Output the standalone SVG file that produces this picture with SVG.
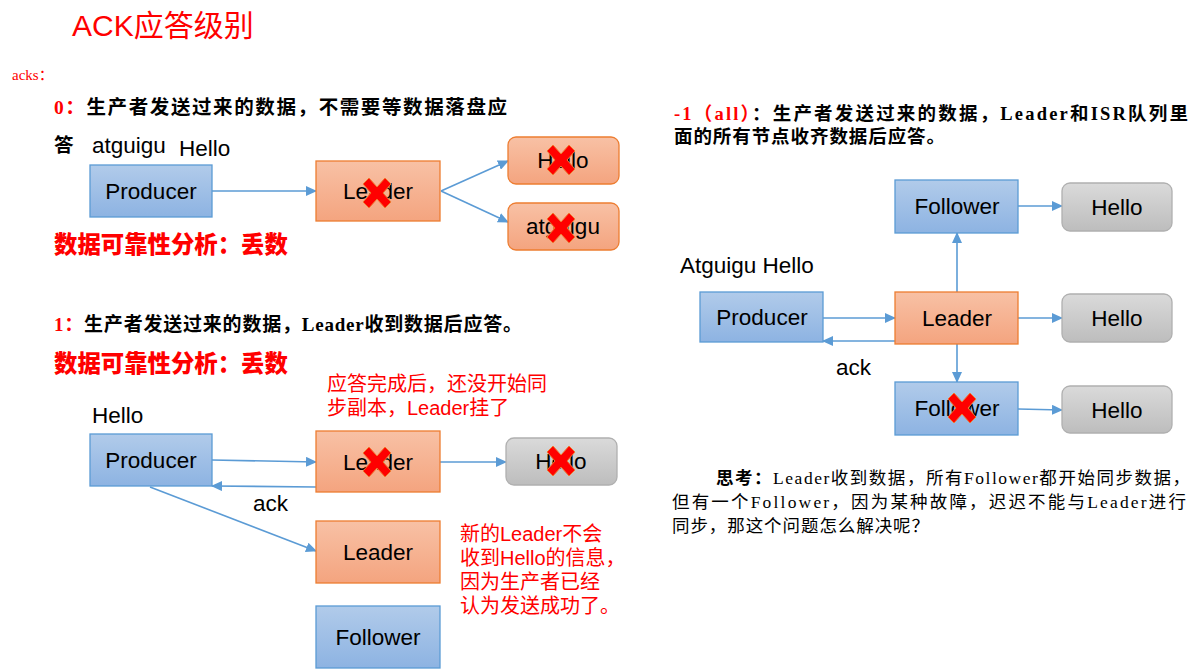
<svg xmlns="http://www.w3.org/2000/svg" width="1200" height="669" viewBox="0 0 1200 669">
<defs>
<linearGradient id="gBlue" x1="0" y1="0" x2="0" y2="1"><stop offset="0" stop-color="#B1CBEA"/><stop offset="1" stop-color="#8DB3E2"/></linearGradient>
<linearGradient id="gOrange" x1="0" y1="0" x2="0" y2="1"><stop offset="0" stop-color="#F8C1A5"/><stop offset="1" stop-color="#F4A47F"/></linearGradient>
<linearGradient id="gGray" x1="0" y1="0" x2="0" y2="1"><stop offset="0" stop-color="#DADADA"/><stop offset="1" stop-color="#BDBDBD"/></linearGradient>
<marker id="arr" markerWidth="11" markerHeight="10" refX="10" refY="5" orient="auto" markerUnits="userSpaceOnUse"><path d="M0,0 L11,5 L0,10 Z" fill="#5B9BD5"/></marker>
<polygon id="xmark" points="-14,-9 -8,-15 0,-6 8,-15 14,-9 6,0 14,9 8,15 0,6 -8,15 -14,9 -6,0" fill="#FF0000" stroke="#F07830" stroke-width="1" stroke-linejoin="round"/>
</defs>
<style>
.blue{fill:url(#gBlue);stroke:#5B9BD5;stroke-width:1.3}
.orange{fill:url(#gOrange);stroke:#ED7D31;stroke-width:1.3}
.gray{fill:url(#gGray);stroke:#B0B0B0;stroke-width:1.3}
.lbl{font-family:"Liberation Sans",Arial,sans-serif;font-size:22.5px;fill:#000}
.cn{font-family:"Liberation Serif","Noto Sans CJK SC",serif;fill:#000}
.red{fill:#FF0000}
.ann{font-family:"Liberation Sans","Noto Sans CJK SC",sans-serif;font-size:20px;fill:#FF0000}
.hd{font-family:"Noto Sans CJK SC",sans-serif;font-size:23.4px;font-weight:900;fill:#FF0000}
.conn line{stroke:#5B9BD5;stroke-width:1.6;marker-end:url(#arr)}
</style>
<rect width="1200" height="669" fill="#FFFFFF"/>

<g id="title">
<text x="72" y="36" font-family="Liberation Sans,Noto Sans CJK SC,sans-serif" font-size="30" fill="#FF0000">ACK应答级别</text>
<text x="12" y="80" class="cn red" font-size="15">acks：</text>
</g>

<g id="texts-left">
<text x="54" y="114" class="cn" font-size="19.5" font-weight="bold" textLength="453" lengthAdjust="spacing"><tspan class="red">0：</tspan>生产者发送过来的数据，不需要等数据落盘应</text>
<text x="54" y="152" class="cn" font-size="19.5" font-weight="bold">答</text>
<text x="92" y="153" class="lbl">atguigu</text>
<text x="179" y="156" class="lbl">Hello</text>
<text x="54" y="253" class="hd">数据可靠性分析：丢数</text>
<text x="54" y="331" class="cn" font-size="19" font-weight="bold" textLength="468" lengthAdjust="spacing"><tspan class="red">1：</tspan>生产者发送过来的数据，Leader收到数据后应答。</text>
<text x="54" y="372" class="hd">数据可靠性分析：丢数</text>
<text x="327" y="391" class="ann">应答完成后，还没开始同</text>
<text x="327" y="415" class="ann">步副本，Leader挂了</text>
<text x="92" y="423" class="lbl">Hello</text>
<text x="253" y="511" class="lbl">ack</text>
<text x="460" y="541" class="ann">新的Leader不会</text>
<text x="460" y="565" class="ann">收到Hello的信息，</text>
<text x="460" y="589" class="ann">因为生产者已经</text>
<text x="460" y="613" class="ann">认为发送成功了。</text>
</g>

<g id="texts-right">
<text x="674" y="120" class="cn" font-size="18.5" font-weight="bold" textLength="514" lengthAdjust="spacing"><tspan class="red">-1（all）</tspan>：生产者发送过来的数据，Leader和ISR队列里</text>
<text x="674" y="143" class="cn" font-size="18.5" font-weight="bold" textLength="271" lengthAdjust="spacing">面的所有节点收齐数据后应答。</text>
<text x="680" y="273" class="lbl">Atguigu Hello</text>
<text x="836" y="375" class="lbl">ack</text>
<text x="716" y="484" class="cn" font-size="17.5" textLength="474" lengthAdjust="spacing"><tspan font-weight="bold">思考：</tspan>Leader收到数据，所有Follower都开始同步数据，</text>
<text x="672" y="508" class="cn" font-size="17.5" textLength="514" lengthAdjust="spacing">但有一个Follower，因为某种故障，迟迟不能与Leader进行</text>
<text x="672" y="532" class="cn" font-size="17.5" textLength="257" lengthAdjust="spacing">同步，那这个问题怎么解决呢？</text>
</g>

<g id="connectors" class="conn">
<line x1="212" y1="191" x2="316" y2="191"/>
<line x1="441" y1="191" x2="508" y2="161"/>
<line x1="441" y1="191" x2="508" y2="222"/>
<line x1="212" y1="460" x2="316" y2="462"/>
<line x1="316" y1="487" x2="212" y2="486"/>
<line x1="150" y1="487" x2="316" y2="551"/>
<line x1="440" y1="462" x2="506" y2="462"/>
<line x1="823" y1="318" x2="895" y2="318"/>
<line x1="895" y1="341" x2="823" y2="341"/>
<line x1="957" y1="292" x2="957" y2="233"/>
<line x1="957" y1="344" x2="957" y2="382"/>
<line x1="1018" y1="206" x2="1062" y2="206"/>
<line x1="1018" y1="318" x2="1062" y2="318"/>
<line x1="1018" y1="409" x2="1062" y2="410"/>
</g>

<g id="n0-producer"><rect class="blue" x="90" y="165" width="122" height="52"/><text class="lbl" x="151" y="199" text-anchor="middle">Producer</text></g>
<g id="n0-leader"><rect class="orange" x="316" y="161" width="124" height="60"/><text class="lbl" x="378" y="199" text-anchor="middle">Leader</text><use href="#xmark" x="377" y="193"/></g>
<g id="n0-hello"><rect class="orange" x="508" y="137" width="111" height="47" rx="8"/><text class="lbl" x="563" y="168" text-anchor="middle">Hello</text><use href="#xmark" x="561" y="160"/></g>
<g id="n0-atguigu"><rect class="orange" x="508" y="203" width="111" height="47" rx="8"/><text class="lbl" x="563" y="234" text-anchor="middle">atguigu</text><use href="#xmark" x="561" y="228"/></g>

<g id="n1-producer"><rect class="blue" x="90" y="434" width="122" height="52"/><text class="lbl" x="151" y="468" text-anchor="middle">Producer</text></g>
<g id="n1-leader"><rect class="orange" x="316" y="431" width="124" height="61"/><text class="lbl" x="378" y="470" text-anchor="middle">Leader</text><use href="#xmark" x="377" y="462"/></g>
<g id="n1-hello"><rect class="gray" x="506" y="438" width="111" height="47" rx="8"/><text class="lbl" x="561" y="469" text-anchor="middle">Hello</text><use href="#xmark" x="561" y="461"/></g>
<g id="n1-leader2"><rect class="orange" x="316" y="521" width="124" height="62"/><text class="lbl" x="378" y="560" text-anchor="middle">Leader</text></g>
<g id="n1-follower"><rect class="blue" x="316" y="606" width="124" height="62"/><text class="lbl" x="378" y="645" text-anchor="middle">Follower</text></g>

<g id="n2-follower-top"><rect class="blue" x="895" y="180" width="123" height="53"/><text class="lbl" x="957" y="214" text-anchor="middle">Follower</text></g>
<g id="n2-hello1"><rect class="gray" x="1062" y="183" width="110" height="48" rx="8"/><text class="lbl" x="1117" y="215" text-anchor="middle">Hello</text></g>
<g id="n2-producer"><rect class="blue" x="700" y="292" width="123" height="50"/><text class="lbl" x="762" y="325" text-anchor="middle">Producer</text></g>
<g id="n2-leader"><rect class="orange" x="895" y="292" width="123" height="52"/><text class="lbl" x="957" y="326" text-anchor="middle">Leader</text></g>
<g id="n2-hello2"><rect class="gray" x="1062" y="294" width="110" height="48" rx="8"/><text class="lbl" x="1117" y="326" text-anchor="middle">Hello</text></g>
<g id="n2-follower-bottom"><rect class="blue" x="895" y="382" width="123" height="53"/><text class="lbl" x="957" y="416" text-anchor="middle">Follower</text><use href="#xmark" x="962" y="408"/></g>
<g id="n2-hello3"><rect class="gray" x="1062" y="386" width="110" height="47" rx="8"/><text class="lbl" x="1117" y="418" text-anchor="middle">Hello</text></g>
</svg>
